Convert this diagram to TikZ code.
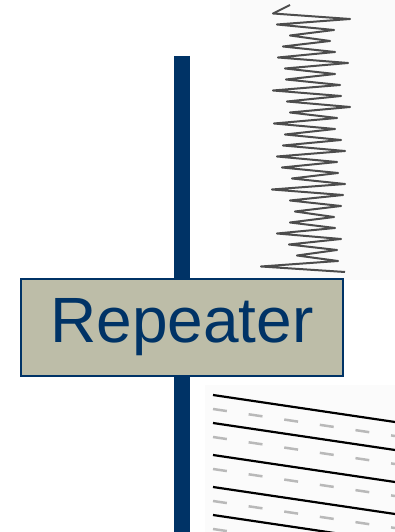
\documentclass[tikz,border=0pt]{standalone}
\usepackage{fontspec}
\setmainfont{Liberation Sans}
\usepackage{xcolor}
\definecolor{repeater_blue}{RGB}{0,51,102}
\definecolor{repeater_khaki}{RGB}{189,189,168}

\begin{document}
\begin{tikzpicture}[x=1pt,y=1pt]
    \useasboundingbox (0,0) rectangle (395,532);

    % Faint scan backgrounds
    \fill[gray!4] (230,252) rectangle (395,532);
    \fill[gray!3] (205,0) rectangle (395,147);

    % Noisy signal (before repeater)
    \draw[black!70, line width=2pt, line join=round] (290,527)
        \foreach \l/\r [count=\i] in {273/350, 277/334, 290/330, 283/335, 278/348, 285/335,
            286/340, 273/341, 287/350, 290/337, 274/335, 285/341, 283/345, 277/337,
            282/338, 292/345, 272/343, 290/341, 295/334, 290/335, 277/341, 289/337,
            297/338, 261/345} { -- (\l,{524-\i*11+5.5}) -- (\r,{524-\i*11}) };

    % Clean signal (after repeater)
    \foreach \y in {137, 109, 77, 45, 17} {
        \draw[black, line width=2.2pt] (213,\y) -- (395,{\y-27});
        \draw[gray!55, line width=2.5pt, dash pattern=on 14pt off 22pt] (213,{\y-14}) -- (395,{\y-41});
    }

    % Line
    \coordinate (top) at (182,476);
    \coordinate (bottom) at (182,0);
    \draw[repeater_blue, line width=16pt] (top) -- (bottom);

    % Repeater box
    \node[draw=repeater_blue, line width=1.5pt, fill=repeater_khaki,
          minimum width=322pt, minimum height=97pt, inner sep=0pt,
          text=repeater_blue, font=\fontsize{64}{64}\selectfont]
          (repeater) at (182,204.5) {Repeater};
\end{tikzpicture}
\end{document}
